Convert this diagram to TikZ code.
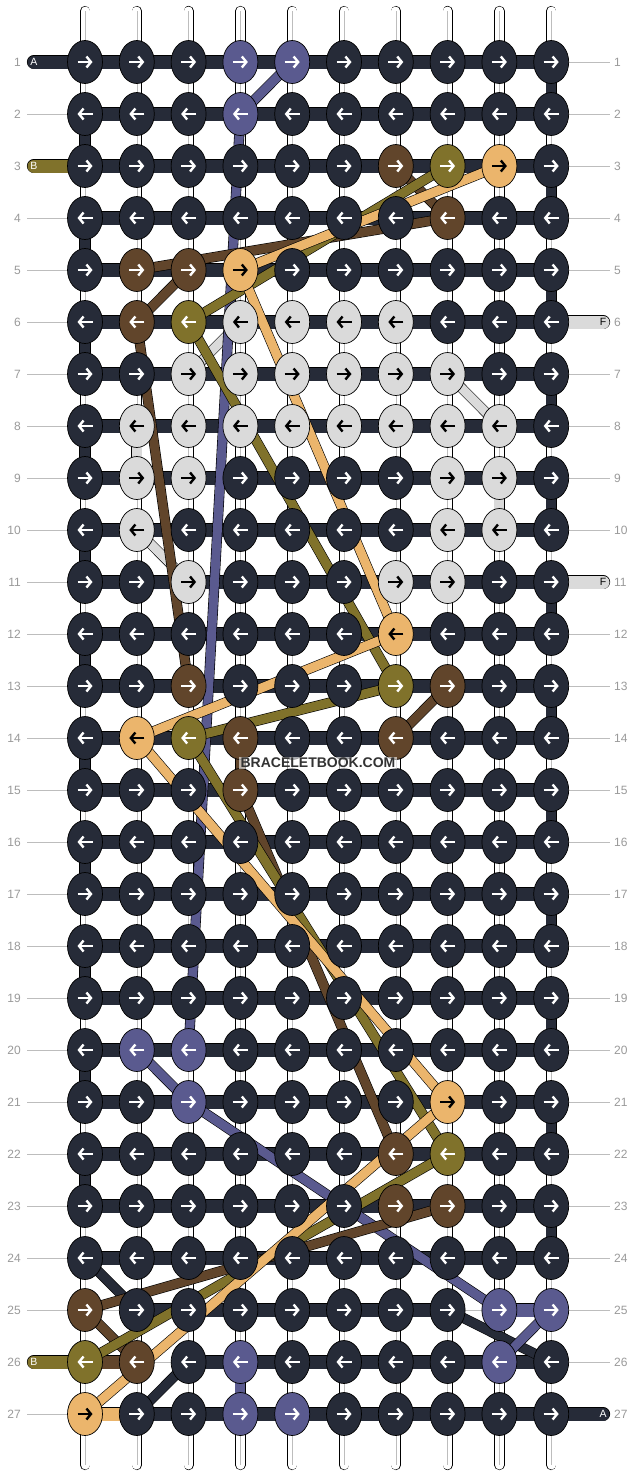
\documentclass[tikz,border=0pt]{standalone}
\usepackage{fontspec}
\setmainfont{Liberation Sans}
\usetikzlibrary{shapes.geometric,arrows.meta}

\definecolor{kD}{HTML}{262B38}
\definecolor{kP}{HTML}{5A5A8F}
\definecolor{kO}{HTML}{80722B}
\definecolor{kB}{HTML}{61452B}
\definecolor{kT}{HTML}{EBB56C}
\definecolor{kL}{HTML}{DADADA}
\definecolor{numgray}{HTML}{9A9A9A}
\definecolor{linegray}{HTML}{BDBDBD}
\colorlet{aD}{white}
\colorlet{aP}{white}
\colorlet{aO}{white}
\colorlet{aB}{white}
\colorlet{aT}{black}
\colorlet{aL}{black}

\tikzset{
  knotshape/.style={ellipse, draw=black, line width=0.7pt,
    minimum width=35pt, minimum height=43pt, inner sep=0pt},
  rowbar/.style={draw=black, line width=0.6pt, double=#1, double distance=13pt},
  colbar/.style={draw=black, line width=0.6pt, double=#1, double distance=10pt},
  strand/.style={draw=black, line width=0.6pt, double=#1, double distance=9pt},
  rod/.style={draw=black, line width=0.6pt, double=white, double distance=9pt, line cap=round},
  guideline/.style={draw=linegray, line width=0.7pt},
  rownum/.style={text=numgray, font=\fontsize{12}{12}\selectfont, inner sep=0pt},
  tabtxt/.style={font=\fontsize{10.5}{10.5}\selectfont, inner sep=0pt},
  knotarrow/.style={line width=2.4pt, -{Straight Barb[length=4.5pt,width=11pt]}}
}

\begin{document}
\begin{tikzpicture}[x=1pt, y=-1pt]
\fill[white] (0,0) rectangle (636,1476);
\useasboundingbox (0,0) rectangle (636,1476);

% knot positions
\foreach \r in {1,...,27}
  \foreach \i in {1,...,10}
    \coordinate (p-\r-\i) at ({85+51.8*(\i-1)},{62+52*(\r-1)});

% row guides and numbers
\foreach \r in {1,...,27}{
  \draw[guideline] (27,{62+52*(\r-1)}) coordinate (gl-\r) -- (610,{62+52*(\r-1)}) coordinate (gr-\r);
  \node[rownum, anchor=east] (nl-\r) at (21,{62+52*(\r-1)}) {\r};
  \node[rownum, anchor=west] (nr-\r) at (614,{62+52*(\r-1)}) {\r};
}

% vertical strings
\foreach \i in {1,...,10}{
  \path ({85+51.8*(\i-1)},11) coordinate (top-\i) ({85+51.8*(\i-1)},1465) coordinate (bot-\i);
  \draw[rod] (top-\i) -- (bot-\i);
  \draw[guideline, line width=0.6pt] (top-\i) -- (bot-\i);
}

% thread ends
\draw[rowbar=kD, line cap=round] (34,62) coordinate (tA1) -- (p-1-1);
\draw[rowbar=kO, line cap=round] (34,166) coordinate (tB3) -- (p-3-1);
\draw[rowbar=kO, line cap=round] (34,1362) coordinate (tB26) -- (p-26-1);
\draw[rowbar=kL, line cap=round] (p-6-10) -- (603,322) coordinate (tF6);
\draw[rowbar=kL, line cap=round] (p-11-10) -- (603,582) coordinate (tF11);
\draw[rowbar=kD, line cap=round] (p-27-10) -- (603,1414) coordinate (tA27);

% rows of the knotting thread
\foreach \r in {1,...,24}
  \draw[rowbar=kD] (p-\r-1) -- (p-\r-10);
\draw[rowbar=kD] (p-25-2) -- (p-25-8);
\draw[rowbar=kD] (p-26-3) -- (p-26-10);
\draw[rowbar=kD] (p-27-2) -- (p-27-10);

% turns at the edges
\foreach \r [evaluate=\r as \s using int(\r+1)] in {2,4,...,22}
  \draw[colbar=kD] (p-\r-1) -- (p-\s-1);
\foreach \r [evaluate=\r as \s using int(\r+1)] in {1,3,...,23}
  \draw[colbar=kD] (p-\r-10) -- (p-\s-10);

% coloured links
\draw[rowbar=kP] (p-25-9) -- (p-25-10);
\draw[rowbar=kB] (p-26-1) -- (p-26-2);
\draw[rowbar=kT] (p-27-1) -- (p-27-2);
\draw[colbar=kP] (p-26-4) -- (p-27-4);
\draw[colbar=kL] (p-8-2) -- (p-9-2);
\draw[colbar=kL] (p-9-9) -- (p-10-9);

% dark thread skipping
\draw[strand=kD] (p-24-1) -- (p-25-2);
\draw[strand=kD] (p-25-8) -- (p-26-10);
\draw[strand=kD] (p-26-3) -- (p-27-2);

% light thread
\draw[strand=kL] (p-6-4) -- (p-7-3);
\draw[strand=kL] (p-7-8) -- (p-8-9);
\draw[strand=kL] (p-10-2) -- (p-11-3);

% purple thread
\draw[strand=kP] (p-1-5) -- (p-2-4);
\draw[strand=kP] (p-2-4) -- (p-20-3);
\draw[strand=kP] (p-20-2) -- (p-21-3);
\draw[strand=kP] (p-21-3) -- (p-25-9);
\draw[strand=kP] (p-25-10) -- (p-26-9);

% brown thread
\draw[strand=kB] (p-3-7) -- (p-4-8);
\draw[strand=kB] (p-4-8) -- (p-5-2);
\draw[strand=kB] (p-5-3) -- (p-6-2);
\draw[strand=kB] (p-6-2) -- (p-13-3);
\draw[strand=kB] (p-14-4) -- (p-15-4);
\draw[strand=kB] (p-15-4) -- (p-22-7);
\draw[strand=kB] (p-13-8) -- (p-14-7);
\draw[strand=kB] (p-23-8) -- (p-25-1);
\draw[strand=kB] (p-25-1) -- (p-26-2);

% olive thread
\draw[strand=kO] (p-3-8) -- (p-6-3);
\draw[strand=kO] (p-6-3) -- (p-13-7);
\draw[strand=kO] (p-13-7) -- (p-14-3);
\draw[strand=kO] (p-14-3) -- (p-22-8);
\draw[strand=kO] (p-22-8) -- (p-26-1);

% tan thread
\draw[strand=kT] (p-3-9) -- (p-5-4);
\draw[strand=kT] (p-5-4) -- (p-12-7);
\draw[strand=kT] (p-12-7) -- (p-14-2);
\draw[strand=kT] (p-14-2) -- (p-21-8);
\draw[strand=kT] (p-21-8) -- (p-27-1);

% knots
\foreach \r/\row in {
  1/{D,D,D,P,P,D,D,D,D,D}, 2/{D,D,D,P,D,D,D,D,D,D}, 3/{D,D,D,D,D,D,B,O,T,D},
  4/{D,D,D,D,D,D,D,B,D,D}, 5/{D,B,B,T,D,D,D,D,D,D}, 6/{D,B,O,L,L,L,L,D,D,D},
  7/{D,D,L,L,L,L,L,L,D,D}, 8/{D,L,L,L,L,L,L,L,L,D}, 9/{D,L,L,D,D,D,D,L,L,D},
  10/{D,L,D,D,D,D,D,L,L,D}, 11/{D,D,L,D,D,D,L,L,D,D}, 12/{D,D,D,D,D,D,T,D,D,D},
  13/{D,D,B,D,D,D,O,B,D,D}, 14/{D,T,O,B,D,D,B,D,D,D}, 15/{D,D,D,B,D,D,D,D,D,D},
  16/{D,D,D,D,D,D,D,D,D,D}, 17/{D,D,D,D,D,D,D,D,D,D}, 18/{D,D,D,D,D,D,D,D,D,D},
  19/{D,D,D,D,D,D,D,D,D,D}, 20/{D,P,P,D,D,D,D,D,D,D}, 21/{D,D,P,D,D,D,D,T,D,D},
  22/{D,D,D,D,D,D,B,O,D,D}, 23/{D,D,D,D,D,D,B,B,D,D}, 24/{D,D,D,D,D,D,D,D,D,D},
  25/{B,D,D,D,D,D,D,D,P,P}, 26/{O,B,D,P,D,D,D,D,P,D}, 27/{T,D,D,P,P,D,D,D,D,D}}{
  \pgfmathsetmacro\xa{mod(\r,2)==1 ? -7.5 : 7.5}
  \pgfmathsetmacro\xb{mod(\r,2)==1 ? 7.5 : -7.5}
  \foreach \c [count=\i] in \row {
    \node[knotshape, fill=k\c] (k-\r-\i) at (p-\r-\i) {};
    \draw[knotarrow, a\c] ([xshift=\xa pt]k-\r-\i.center) -- ([xshift=\xb pt]k-\r-\i.center);
  }
}

% thread letters
\node[tabtxt, text=white] at (tA1) {A};
\node[tabtxt, text=white] at (tB3) {B};
\node[tabtxt, text=white] at (tB26) {B};
\node[tabtxt, text=black] at (tF6) {F};
\node[tabtxt, text=black] at (tF11) {F};
\node[tabtxt, text=white] at (tA27) {A};

% watermark
\node[font=\bfseries\fontsize{14}{14}\selectfont, text=black!80, fill=white,
  fill opacity=0.6, text opacity=1, inner sep=1.5pt] (wm) at (318,763) {BRACELETBOOK.COM};
\end{tikzpicture}
\end{document}
